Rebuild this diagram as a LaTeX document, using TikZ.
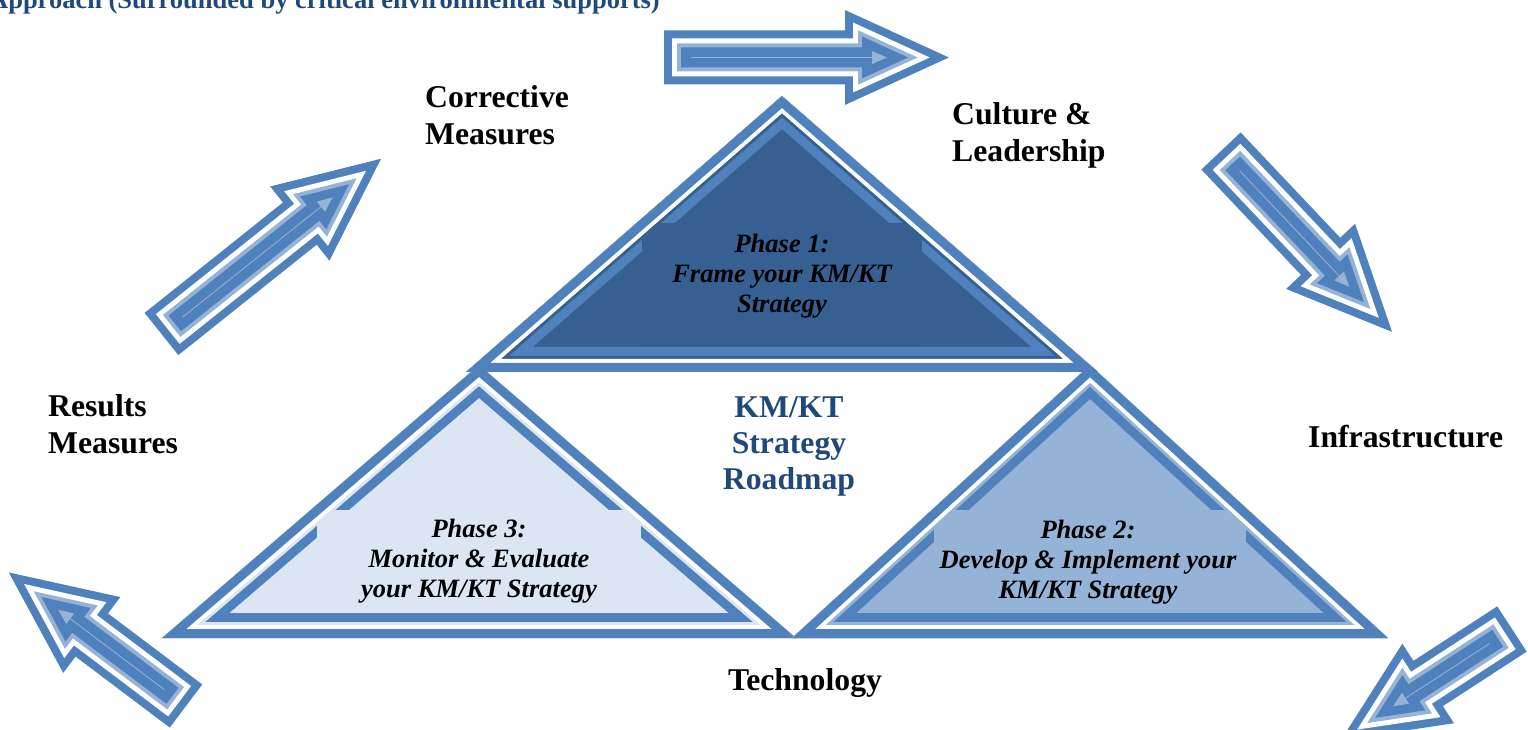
\documentclass[tikz,border=0pt]{standalone}
\usepackage{fontspec}
\setmainfont{Liberation Serif}

\definecolor{barblue}{RGB}{79,129,189}
\definecolor{lightbar}{RGB}{149,179,215}
\definecolor{phaseonefill}{RGB}{54,96,146}
\definecolor{phasetwofill}{RGB}{149,179,215}
\definecolor{phasethreefill}{RGB}{220,230,242}
\definecolor{titleblue}{RGB}{31,73,125}

\tikzset{
  arrowrim/.style={draw=barblue, line width=34pt, line join=miter},
  arrowgap/.style={draw=white, line width=18pt, line join=miter},
  arrowglow/.style={draw=lightbar, line width=8pt, line join=miter},
  arrowbody/.style={fill=barblue},
  sidetext/.style={font=\bfseries\fontsize{31.7}{37}\selectfont, align=left, anchor=base west, inner sep=0pt},
  phasetext/.style={font=\bfseries\itshape\fontsize{26.5}{30}\selectfont, align=center, anchor=base, inner sep=0pt},
  hubtext/.style={font=\bfseries\fontsize{31.7}{36}\selectfont, text=titleblue, align=center, anchor=base, inner sep=0pt},
}

% outlined block arrow: tail centre x, tail centre y, direction, overall length
\newcommand{\blockarrow}[4]{%
  \pgfmathsetmacro{\arrtip}{#4-42}%
  \pgfmathsetmacro{\arrneck}{#4-88}%
  \begin{scope}[shift={(#1,#2)},rotate=#3]
    \foreach \layer in {arrowrim,arrowgap,arrowglow,arrowbody}
      \path[\layer] (17,-10) -- (\arrneck,-10) -- (\arrneck,-21) -- (\arrtip,0)
        -- (\arrneck,21) -- (\arrneck,10) -- (17,10) -- cycle;
    \draw[lightbar, line width=0.8pt] (27,0) -- (\arrtip-30,0);
    \fill[lightbar] (\arrtip-36,-6.5) -- (\arrtip-21,0) -- (\arrtip-36,6.5) -- cycle;
  \end{scope}}

% framed phase triangle: apex, left corner, right corner, fill colour, text box corners
\newcommand{\phasetriangle}[6]{%
  \begin{scope}
    \clip #1 -- #2 -- #3 -- cycle;
    \fill[#4] #1 -- #2 -- #3 -- cycle;
    \draw[barblue, line width=50pt] #1 -- #2 -- #3 -- cycle;
    \draw[#4, line width=32pt] #1 -- #2 -- #3 -- cycle;
    \fill[#4] #5 rectangle #6;
    \draw[white, line width=26pt] #1 -- #2 -- #3 -- cycle;
    \draw[barblue, line width=18pt] #1 -- #2 -- #3 -- cycle;
  \end{scope}}

\begin{document}
\begin{tikzpicture}[x=1pt,y=1pt]
  \useasboundingbox (0,0) rectangle (1528,729);
  \fill[white] (0,0) rectangle (1528,729);
  \clip (0,0) rectangle (1528,729);

  % heading, cut by the top edge
  \node[font=\bfseries\fontsize{26.5}{30}\selectfont, text=titleblue, anchor=base east, inner sep=0pt]
    (heading) at (660,720) {Approach (Surrounded by critical environmental supports)};

  % the three phases
  \phasetriangle{(479,364)}{(162,91)}{(796,91)}{phasethreefill}{(317,116)}{(641,219)}
  \phasetriangle{(1090,364)}{(792,91)}{(1388,91)}{phasetwofill}{(934,116)}{(1246,219)}
  \phasetriangle{(782,633)}{(466,357)}{(1098,357)}{phaseonefill}{(642,382)}{(922,506)}

  % multi-line nodes sit on the baseline of their last line
  \node[phasetext] (phaseone) at (782,416) {Phase 1:\\Frame your KM/KT\\Strategy};
  \node[phasetext] (phasetwo) at (1088,131) {Phase 2:\\Develop \& Implement your\\KM/KT Strategy};
  \node[phasetext] (phasethree) at (479,132) {Phase 3:\\Monitor \& Evaluate\\your KM/KT Strategy};

  \node[hubtext] (roadmap) at (789,240) {KM/KT\\Strategy\\Roadmap};

  % surrounding supports
  \node[sidetext] (corrective) at (425,584) {Corrective\\Measures};
  \node[sidetext] (culture) at (952,567) {Culture \&\\Leadership};
  \node[sidetext] (infra) at (1308,282) {Infrastructure};
  \node[sidetext, anchor=base] (tech) at (805,39) {Technology};
  \node[sidetext] (results) at (48,276) {Results\\Measures};

  % cycle of arrows around the phases
  \blockarrow{664}{671.5}{0}{286}
  \blockarrow{1221}{578}{-46.6}{250}
  \blockarrow{1512}{100}{213}{205}
  \blockarrow{186}{23}{143}{223}
  \blockarrow{161.5}{395}{38.6}{282}
\end{tikzpicture}
\end{document}
